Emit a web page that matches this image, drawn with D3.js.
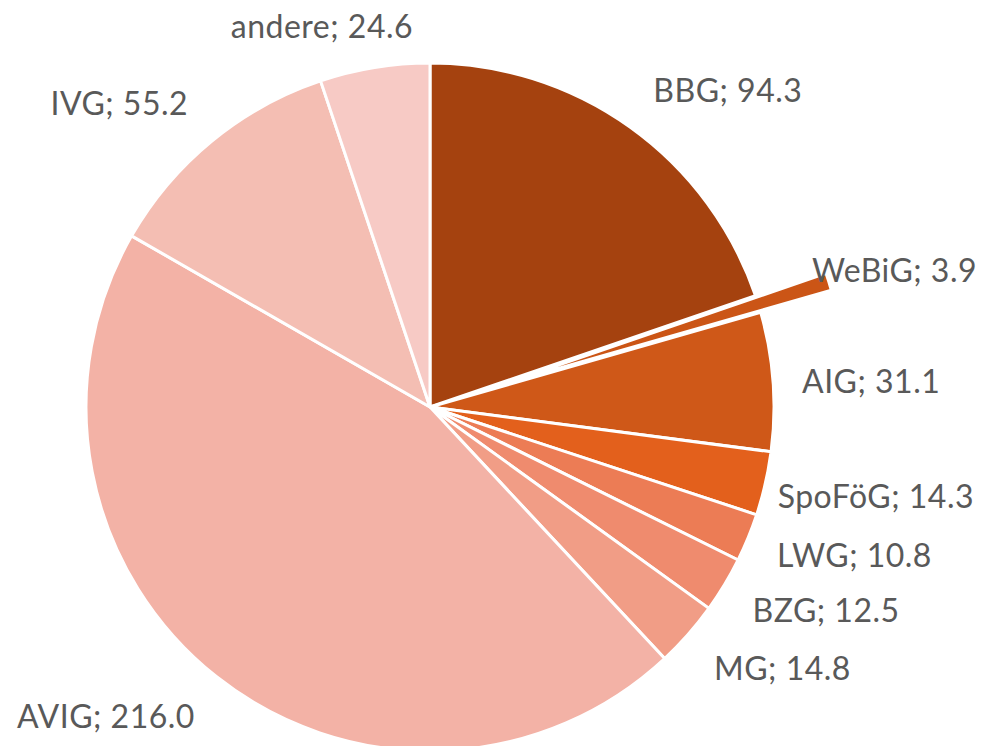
<!DOCTYPE html>
<html>
<head>
<meta charset="utf-8">
<script src="https://cdn.jsdelivr.net/npm/d3@7"></script>
<style>
  html, body { margin: 0; padding: 0; background: #fff; }
  svg { display: block; }
</style>
</head>
<body>
<div id="chart"></div>
<script>
// Data
const categories = ['BBG', 'WeBiG', 'AIG', 'SpoFöG', 'LWG', 'BZG', 'MG', 'AVIG', 'IVG', 'andere']
const values = [94.3, 3.9, 31.1, 14.3, 10.8, 12.5, 14.8, 216.0, 55.2, 24.6]
const exploded = ['WeBiG']

// Style
const colours = ['#A5420F', '#CB5516', '#CF5818', '#E3601C', '#EC7C55', '#EF8B6E', '#F19D86', '#F3B2A6', '#F4BEB3', '#F7CAC5']
// small label nudges (dx, dy) on top of the computed outside position
const labelNudge = {
  BBG: [7, -13], WeBiG: [27, -24], AIG: [1, 3], 'SpoFöG': [-15, 7], LWG: [3, 8],
  BZG: [4, 12], MG: [5, 16], AVIG: [-4, 19], IVG: [-6, -15], andere: [43, -13]
}

const width = 992
const height = 746
const cx = 430
const cy = 407
const radius = 344
const explodeBy = 74
const labelGap = 28
const fontSize = 32

const svg = d3.select('#chart')
  .append('svg')
  .attr('width', width)
  .attr('height', height)

const data = categories.map((c, i) => ({ name: c, value: values[i], colour: colours[i] }))

const pie = d3.pie()
  .sort(null)
  .value(d => d.value)

const arc = d3.arc()
  .innerRadius(0)
  .outerRadius(radius)

const arcs = pie(data)

const gPie = svg.append('g')
  .attr('transform', `translate(${cx},${cy})`)

gPie.selectAll('path')
  .data(arcs)
  .join('path')
  .attr('d', arc)
  .attr('transform', d => {
    if (!exploded.includes(d.data.name)) return null
    const a = (d.startAngle + d.endAngle) / 2
    return `translate(${Math.sin(a) * explodeBy},${-Math.cos(a) * explodeBy})`
  })
  .style('fill', d => d.data.colour)
  .style('stroke', '#fff')
  .style('stroke-width', 3)
  .style('stroke-linejoin', 'round')

// Labels
const gLabels = svg.append('g')
  .attr('transform', `translate(${cx},${cy})`)

gLabels.selectAll('text')
  .data(arcs)
  .join('text')
  .attr('x', d => {
    const a = (d.startAngle + d.endAngle) / 2
    return Math.sin(a) * (radius + labelGap) + labelNudge[d.data.name][0]
  })
  .attr('y', d => {
    const a = (d.startAngle + d.endAngle) / 2
    return -Math.cos(a) * (radius + labelGap) + labelNudge[d.data.name][1]
  })
  .attr('dy', '0.34em')
  .style('text-anchor', d => ((d.startAngle + d.endAngle) / 2 < Math.PI) ? 'start' : 'end')
  .style('font-family', 'Lato, "Open Sans", sans-serif')
  .style('font-size', `${fontSize}px`)
  .style('letter-spacing', '0.5px')
  .style('fill', '#595959')
  .text(d => `${d.data.name}; ${d.data.value.toFixed(1)}`)
</script>
</body>
</html>
